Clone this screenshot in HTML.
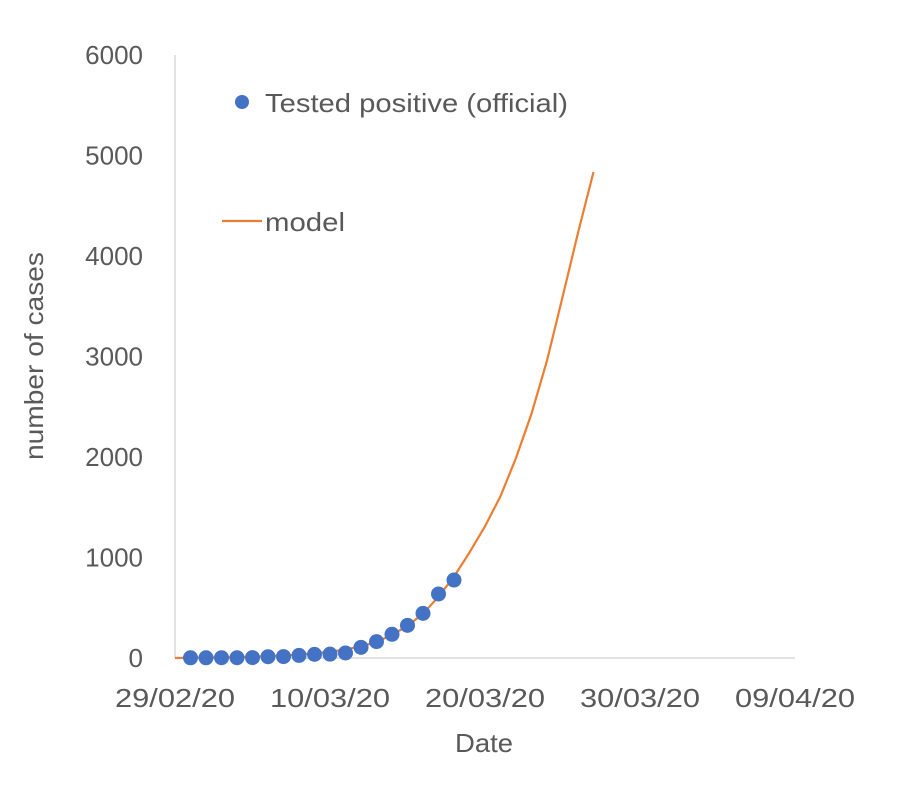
<!DOCTYPE html>
<html><head><meta charset="utf-8"><style>
body{margin:0;background:#fff}
text{font-family:"Liberation Sans",sans-serif;fill:#595959}
</style></head><body>
<svg id="chart" width="920" height="791" viewBox="0 0 920 791">
<g id="axes"></g>
<g id="series"></g>
<g>
<circle cx="242" cy="102" r="7" fill="#4472C4"/>
<text x="265" y="112" font-size="26" textLength="303" lengthAdjust="spacingAndGlyphs">Tested positive (official)</text>
<line x1="222" y1="221" x2="262" y2="221" stroke="#ED7D31" stroke-width="2.2"/>
<text x="265" y="231" font-size="26" textLength="80" lengthAdjust="spacingAndGlyphs">model</text>
</g>
<text x="484" y="752" font-size="26" text-anchor="middle" textLength="58" lengthAdjust="spacingAndGlyphs">Date</text>
<text transform="translate(43,356) rotate(-90)" font-size="26" text-anchor="middle" textLength="208" lengthAdjust="spacingAndGlyphs">number of cases</text>
</svg>
<script>
const yTicks=[0,1000,2000,3000,4000,5000,6000];
const xTickDays=[0,10,20,30,40];
const xTickLabels=["29/02/20","10/03/20","20/03/20","30/03/20","09/04/20"];
const testedDays=[1,2,3,4,5,6,7,8,9,10,11,12,13,14,15,16,17,18];
const testedValues=[2,2,3,3,4,13,14,26,36,38,50,106,163,236,325,444,637,776];
const modelDays=[0,1,2,3,4,5,6,7,8,9,10,11,12,13,14,15,16,17,18,19,20,21,22,23,24,25,26,27];
const modelValues=[0,2,4,6,9,13,18,25,34,46,62,85,115,160,230,320,440,610,810,1050,1310,1610,1990,2430,2960,3590,4230,4836];
const NS="http://www.w3.org/2000/svg";
const x=d=>175+d*15.5;
const y=v=>658-v*(603/6000);
const axes=document.getElementById('axes'),series=document.getElementById('series');
function mk(tag,attrs,parent){const e=document.createElementNS(NS,tag);for(const k in attrs)e.setAttribute(k,attrs[k]);parent.appendChild(e);return e;}
let yl=mk('line',{x1:175,y1:55,x2:175,y2:658,stroke:'#D9D9D9','stroke-width':1.5},axes);


let xl=mk('line',{x1:175,y1:658,x2:795,y2:658,stroke:'#D9D9D9','stroke-width':1.5},axes);


yTicks.forEach(v=>{const t=mk('text',{x:143,y:y(v)+9,'font-size':26,'text-anchor':'end'},axes);t.textContent=v;

});
xTickDays.forEach((d,i)=>{const t=mk('text',{x:x(d),y:707,'font-size':26,'text-anchor':'middle',textLength:120,lengthAdjust:'spacingAndGlyphs'},axes);t.textContent=xTickLabels[i];

});
const p=mk('polyline',{points:modelDays.map((d,i)=>x(d)+','+y(modelValues[i])).join(' '),fill:'none',stroke:'#ED7D31','stroke-width':2.2,'stroke-linejoin':'round'},series);


testedDays.forEach((d,i)=>{const c=mk('circle',{cx:x(d),cy:y(testedValues[i]),r:7.5,fill:'#4472C4'},series);

});
</script>
</body></html>
